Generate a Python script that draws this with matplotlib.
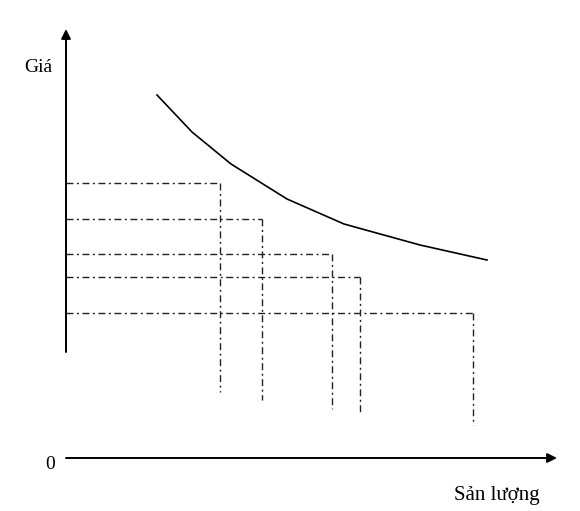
import matplotlib.pyplot as plt

# demand-like curve (quantity, price), origin at the axes corner
curve_q = [91, 126, 165, 221, 278, 354, 421]
curve_p = [365, 328, 296, 261, 236, 215, 200]

# dash-dot guide lines: price level, quantity, where vertical ends
level_p = [277, 241, 206, 183, 147]
level_q = [154, 196, 266, 294, 407]
drop_end = [68, 60, 51, 46, 35]

plt.rcParams['font.family'] = ['Liberation Serif', 'DejaVu Serif']

fig = plt.figure(figsize=(5.8, 5.11), dpi=100)
ax = fig.add_axes([0, 0, 1, 1])
ax.set_xlim(-66, 514)
ax.set_ylim(-51, 460)
ax.axis('off')

# axes arrows
ax.annotate('', xy=(0, 431), xytext=(0, 108),
            arrowprops=dict(arrowstyle='-|>', color='black', lw=1.4,
                            mutation_scale=14, shrinkA=0, shrinkB=0))
ax.annotate('', xy=(491, 2), xytext=(0, 2),
            arrowprops=dict(arrowstyle='-|>', color='black', lw=1.4,
                            mutation_scale=14, shrinkA=0, shrinkB=0))

ax.plot(curve_q, curve_p, color='black', lw=1.2)

for p, q, e in zip(level_p, level_q, drop_end):
    ax.plot([0, q], [p, p], color='#222222', lw=1.0, dashes=(5, 2.5, 1.5, 2.5))
    ax.plot([q, q], [p, e], color='#222222', lw=1.0, dashes=(5, 2.5, 1.5, 2.5))

ax.text(-27.5, 393, 'Giá', fontsize=14, ha='center', va='center')
ax.text(-16, -4, '0', fontsize=14, ha='center', va='center')
ax.text(431, -35, 'Sản lượng', fontsize=15, ha='center', va='center')

fig.savefig('out.png', dpi=100)
